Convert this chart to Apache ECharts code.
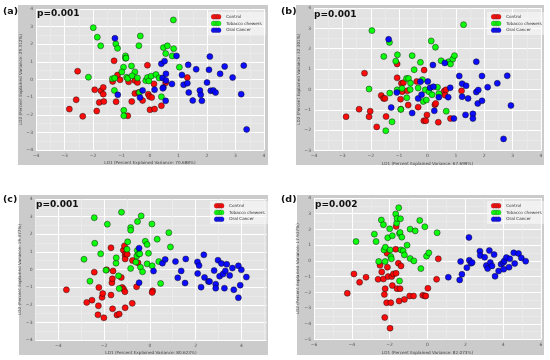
<!DOCTYPE html>
<html><head><meta charset="utf-8">
<script src="https://cdn.jsdelivr.net/npm/echarts@6/dist/echarts.min.js"></script>
<style>html,body{margin:0;padding:0;background:#fff}#c{width:550px;height:360px}</style>
</head><body><div id="c"></div><script>
// ---------- data ----------
const seriesNames = ['Control', 'Tobacco chewers', 'Oral Cancer'];
const panelLabels = ['(a)', '(b)', '(c)', '(d)'];
const pValues = ['p=0.001', 'p=0.001', 'p=0.001', 'p=0.002'];
const ld1Var = ['70.688%', '67.699%', '80.623%', '82.073%'];
const ld2Var = ['29.312%', '32.301%', '19.377%', '17.927%'];
const xRanges = [[-4, 4], [-4, 4], [-5, 5.1], [-6, 6]];
const yRanges = [[-4, 4], [-3, 4], [-4, 4], [-5, 4]];
const xMajor = [1, 1, 2, 2];

const aControl = [[-2.83,-1.68],[-2.54,0.47],[-2.59,-1.15],[-2.36,-2.09],[-1.94,-0.58],[-1.87,-1.79],[-1.78,-1.30],[-1.72,-0.64],[-1.64,-0.45],[-1.64,-0.83],[-1.62,-1.25],[-1.26,1.06],[-1.31,-0.11],[-1.14,0.25],[-1.19,-1.26],[-1.05,-0.02],[-0.75,-0.13],[-0.78,-2.06],[-0.64,-1.25],[-0.53,-0.79],[-0.53,-0.06],[-0.44,-0.17],[-0.40,-0.74],[-0.26,-1.19],[-0.09,0.81],[-0.06,-0.83],[-0.02,-0.96],[0.06,-1.02],[0.00,-1.72],[0.14,-0.25],[0.16,-1.68],[0.40,-1.49],[0.55,-0.19],[1.31,0.11]];
const aTobacco = [[-1.99,2.94],[-1.85,2.40],[-1.73,1.91],[-2.16,0.13],[-1.20,2.02],[-1.14,1.77],[-0.86,1.34],[-0.86,1.20],[-0.84,1.22],[-0.65,0.77],[-0.93,0.70],[-0.99,0.43],[-1.32,0.04],[-1.24,0.08],[-0.82,0.13],[-0.78,0.06],[-0.53,0.43],[-0.63,0.21],[-0.44,0.09],[-0.34,2.47],[-0.39,1.92],[-1.25,-0.62],[-0.92,-1.75],[-0.92,-2.06],[-0.37,-0.74],[-0.15,-0.06],[-0.09,0.11],[-0.04,-0.08],[0.04,0.19],[0.21,0.28],[0.32,0.09],[0.40,-0.98],[0.47,1.81],[0.61,1.91],[0.55,1.47],[0.82,3.38],[0.78,1.34],[0.83,1.75],[1.03,0.70]];
const aCancer = [[-1.23,2.34],[-1.13,-0.87],[-0.26,-0.62],[-0.35,-1.02],[0.16,-0.58],[0.40,0.89],[0.51,1.04],[0.44,0.09],[0.47,-0.45],[0.45,-0.50],[0.56,0.32],[0.56,-0.06],[0.55,-1.21],[0.77,-0.25],[0.93,1.34],[1.12,0.26],[1.18,-0.30],[1.31,-0.21],[1.36,-0.74],[1.34,0.83],[1.50,-1.19],[1.62,0.58],[1.75,-0.62],[1.78,-0.87],[1.82,-1.21],[2.00,-0.17],[2.10,1.30],[2.07,0.55],[2.13,-0.64],[2.22,-0.62],[2.30,-0.74],[2.46,0.32],[2.62,0.74],[2.90,0.11],[3.20,-0.83],[3.29,0.79],[3.39,-2.83]];

const bControl = [[-2.87,-1.34],[-2.41,-0.97],[-2.22,0.80],[-2.06,-1.34],[-2.02,-1.07],[-1.79,-1.84],[-1.63,-0.30],[-1.55,-0.44],[-1.50,-0.44],[-1.46,-1.33],[-1.07,1.25],[-1.07,0.57],[-0.94,-0.97],[-0.92,0.30],[-0.85,0.33],[-0.95,-0.48],[-0.89,-0.11],[-0.68,-0.77],[-0.71,-0.07],[-0.33,-0.87],[-0.38,0.39],[-0.12,0.95],[-0.13,-1.54],[-0.06,-1.54],[-0.02,-1.25],[0.26,-0.75],[0.29,-0.69],[0.38,-1.61],[0.59,-0.08],[0.65,-0.02],[0.62,-0.28],[0.81,-1.43],[1.20,-0.07]];
const bTobacco = [[-1.96,2.89],[-2.06,0.02],[-1.54,1.62],[-1.34,2.31],[-1.12,1.39],[-1.06,1.70],[-1.33,-0.18],[-1.07,-0.02],[-1.25,-1.59],[-1.47,-2.03],[-0.94,-0.98],[-0.90,0.05],[-0.73,-0.41],[-0.74,0.54],[-0.67,0.54],[-0.60,0.31],[-0.61,0.00],[-0.47,0.97],[-0.54,1.66],[-0.33,0.07],[-0.25,1.33],[-0.18,0.48],[-0.15,-0.59],[-0.08,-0.02],[-0.04,-0.52],[0.05,-0.11],[0.13,2.38],[0.16,-0.26],[0.28,2.07],[0.35,0.11],[0.40,-0.21],[0.48,1.41],[0.66,-1.07],[0.74,1.36],[0.81,1.25],[0.89,1.49],[0.95,1.66],[1.27,3.18]];
const bCancer = [[-1.37,2.46],[-1.28,-0.89],[-1.08,-0.15],[-0.54,-1.16],[-0.33,-0.44],[-0.25,0.38],[-0.21,-0.26],[0.01,0.39],[0.09,0.08],[0.19,1.20],[0.21,0.13],[0.24,-1.05],[0.40,-0.38],[0.61,1.30],[0.73,-0.38],[0.80,0.08],[0.93,-1.43],[1.12,0.66],[1.22,0.28],[1.22,-0.36],[1.36,0.18],[1.34,-1.25],[1.43,-0.44],[1.60,-1.20],[1.60,-1.43],[1.72,-0.13],[1.79,-0.03],[1.72,1.36],[1.77,-0.69],[1.92,0.66],[1.92,-0.56],[2.12,0.11],[2.46,0.30],[2.81,0.67],[2.94,-0.79],[2.68,-2.43]];

const cControl = [[-3.65,-1.15],[-2.76,-1.87],[-2.53,-1.74],[-2.43,-0.15],[-2.27,-2.57],[-2.25,-2.06],[-2.23,-1.02],[-2.09,-1.58],[-2.06,-1.36],[-2.01,-2.74],[-1.89,-0.02],[-1.70,1.23],[-1.70,-1.45],[-1.66,-0.75],[-1.64,-0.53],[-1.61,-0.08],[-1.63,-2.23],[-1.44,-2.58],[-1.34,-2.53],[-1.25,-0.45],[-1.16,1.09],[-1.21,-1.02],[-1.15,-1.11],[-1.11,1.34],[-1.08,0.81],[-1.08,0.60],[-1.09,-1.26],[-1.05,0.92],[-1.08,-2.17],[-0.99,0.87],[-0.77,-1.92],[-0.76,0.51],[-0.58,-0.98],[-0.52,0.38],[0.12,-1.21],[0.10,-1.30]];
const cTobacco = [[-2.88,0.58],[-2.62,-0.66],[-2.43,2.94],[-2.41,1.49],[-2.15,0.89],[-1.92,-0.04],[-1.86,2.57],[-1.48,0.36],[-1.47,0.66],[-1.37,-0.36],[-1.34,-1.08],[-1.24,3.25],[-1.00,1.15],[-0.97,1.57],[-0.84,2.38],[-0.84,2.23],[-0.84,0.06],[-0.61,0.42],[-0.57,0.77],[-0.54,2.72],[-0.55,1.08],[-0.49,0.89],[-0.44,0.89],[-0.41,0.13],[-0.38,3.04],[-0.32,-0.13],[-0.20,1.60],[-0.12,1.42],[-0.12,0.32],[-0.06,0.92],[0.09,2.58],[0.10,0.21],[0.32,1.72],[0.39,0.45],[0.47,-0.79],[0.83,2.09],[0.90,1.28]];
const cCancer = [[-0.47,1.21],[-0.47,-0.75],[0.16,-0.09],[0.55,0.36],[0.67,0.57],[1.12,0.45],[1.22,-0.47],[1.37,-0.08],[1.54,-0.77],[1.57,0.60],[2.08,0.43],[2.09,-0.23],[2.15,0.23],[2.24,-1.00],[2.36,0.83],[2.39,-0.45],[2.56,-0.68],[2.61,-0.68],[2.81,-0.06],[2.88,-0.83],[2.88,-1.06],[2.98,0.53],[3.05,-0.38],[3.13,0.34],[3.20,-0.26],[3.30,-0.08],[3.36,0.30],[3.26,-1.06],[3.49,-0.34],[3.61,0.08],[3.67,-1.15],[3.87,0.21],[4.00,-0.02],[4.22,-0.43],[3.95,-0.89],[3.87,-1.60]];

const dControl = [[-4.24,-2.06],[-3.89,-0.83],[-3.59,-1.36],[-3.25,-1.04],[-2.61,-1.17],[-2.51,-0.28],[-2.42,-0.70],[-2.33,-1.15],[-2.28,-2.13],[-2.26,-3.60],[-2.24,-1.77],[-2.16,-2.66],[-2.14,0.49],[-2.12,-0.40],[-2.08,-1.00],[-1.98,-4.28],[-1.94,-2.66],[-1.89,-1.00],[-1.86,-1.57],[-1.80,-0.83],[-1.68,0.74],[-1.66,2.19],[-1.66,-0.79],[-1.61,-1.77],[-1.54,-0.15],[-1.50,-2.55],[-1.45,-1.77],[-1.40,-0.32],[-1.22,-2.45],[-0.94,-2.23],[-0.74,-2.23],[-0.25,-2.19],[-0.14,-2.23],[-0.09,-2.23],[0.02,-1.74],[0.48,-1.17],[0.57,0.13]];
const dTobacco = [[-3.78,1.23],[-2.81,1.70],[-2.72,1.23],[-2.58,-0.04],[-2.44,2.60],[-2.33,2.30],[-2.30,0.70],[-2.23,0.87],[-2.24,-0.04],[-2.10,1.47],[-2.00,2.04],[-1.98,0.70],[-1.94,0.28],[-1.91,0.13],[-1.86,1.60],[-1.68,2.98],[-1.63,2.40],[-1.61,2.70],[-1.52,3.38],[-1.48,1.74],[-1.48,-1.28],[-1.45,1.81],[-1.43,2.68],[-1.36,1.51],[-1.40,0.70],[-1.29,0.64],[-1.22,0.38],[-1.08,1.00],[-0.92,2.02],[-0.92,0.15],[-0.72,0.00],[-0.65,1.91],[-0.41,2.57],[-0.35,-0.49],[-0.14,2.17],[-0.05,0.30],[0.07,0.51],[0.51,1.79]];
const dCancer = [[1.10,-1.04],[1.70,-1.21],[1.75,-0.04],[1.82,-0.85],[2.08,-0.43],[2.19,1.49],[2.21,0.04],[2.30,-0.15],[2.36,-0.11],[2.77,0.62],[2.79,0.34],[3.02,0.23],[3.11,-0.30],[3.18,-0.49],[3.27,0.66],[3.32,-0.11],[3.41,-0.32],[3.52,0.40],[3.57,-0.98],[3.76,-0.64],[3.89,-0.21],[4.01,-0.11],[4.03,-0.53],[4.06,0.00],[4.17,0.21],[4.31,-0.40],[4.35,0.13],[4.56,0.51],[4.61,-0.17],[4.81,0.47],[4.96,0.19],[5.19,-0.02]];

const panelData = [
  [aControl, aTobacco, aCancer],
  [bControl, bTobacco, bCancer],
  [cControl, cTobacco, cCancer],
  [dControl, dTobacco, dCancer]
];

// ---------- layout & style ----------
const seriesColors = ['#ff0000', '#00ff00', '#0000ff'];
const FONT = 'DejaVu Sans';
const gridBoxes = [
  {left: 36, top: 9, width: 228, height: 141},
  {left: 314, top: 8, width: 227, height: 142.5},
  {left: 35.5, top: 199, width: 231, height: 141},
  {left: 314, top: 198, width: 227, height: 141.5}
];
const frames = [[18, 5, 250, 160], [296, 5, 248, 160], [19, 195, 249, 160], [297, 195, 247, 160]];
const labelPos = [[3, 12], [281, 12], [3, 200], [281, 200]];
const pPos = [[37, 14], [314, 15], [36, 205], [315, 205]];
const legendPos = [[207, 12], [487, 12], [210, 201], [487, 201]];
const ld2Gap = [13, 13, 12.5, 14];

const minus = v => String(v).replace('-', '\u2212');
const legendIcon = 'path://M0,2.5a2.5,2.5 0 1,0 5,0a2.5,2.5 0 1,0 -5,0M2.5,2.5a2.5,2.5 0 1,0 5,0a2.5,2.5 0 1,0 -5,0M5,2.5a2.5,2.5 0 1,0 5,0a2.5,2.5 0 1,0 -5,0';

const grid = [], xAxis = [], yAxis = [], series = [], legend = [], graphic = [];
const GRID_BG = '#e3e3e3', MINOR = '#ebebeb';

for (let i = 0; i < 4; i++) {
  grid.push(Object.assign({show: true, backgroundColor: GRID_BG, borderWidth: 0, containLabel: false}, gridBoxes[i]));
  const isC = i === 2;
  xAxis.push({
    gridIndex: i, type: 'value',
    min: xRanges[i][0], max: xRanges[i][1],
    interval: isC ? 1 : xMajor[i],
    axisLine: {show: false}, axisTick: {show: false},
    axisLabel: {fontSize: 4.5, color: '#555', margin: 3, fontFamily: FONT,
      formatter: v => (Number.isInteger(v) && (v % xMajor[i] === 0)) ? minus(v) : ''},
    splitLine: {show: true, showMaxLine: !isC, lineStyle: {color: isC ? [MINOR, '#ffffff'] : '#ffffff', width: 1}},
    minorTick: {show: false, splitNumber: 2},
    minorSplitLine: {show: !isC, lineStyle: {color: MINOR, width: 0.8}},
    name: 'LD1 (Percent Explained Variance: ' + ld1Var[i] + ')',
    nameLocation: 'middle', nameGap: 11,
    nameTextStyle: {fontSize: 4.2, color: '#444', fontFamily: FONT}
  });
  yAxis.push({
    gridIndex: i, type: 'value',
    min: yRanges[i][0], max: yRanges[i][1], interval: 1,
    axisLine: {show: false}, axisTick: {show: false},
    axisLabel: {fontSize: 4.5, color: '#555', margin: 3, fontFamily: FONT, formatter: v => minus(v)},
    splitLine: {show: true, lineStyle: {color: '#ffffff', width: 1}},
    minorTick: {show: false, splitNumber: 2},
    minorSplitLine: {show: true, lineStyle: {color: MINOR, width: 0.8}},
    name: 'LD2 (Percent Explained Variance: ' + ld2Var[i] + ')',
    nameLocation: 'middle', nameGap: ld2Gap[i],
    nameTextStyle: {fontSize: 4.2, color: '#444', fontFamily: FONT}
  });
  for (let s = 0; s < 3; s++) {
    series.push({
      type: 'scatter', name: seriesNames[s],
      xAxisIndex: i, yAxisIndex: i,
      data: panelData[i][s],
      symbol: 'circle', symbolSize: 6,
      itemStyle: {color: seriesColors[s], borderColor: '#111', borderWidth: 0.5, opacity: 0.95},
      z: 2 + s, silent: true, animation: false
    });
  }
  legend.push({
    orient: 'vertical', left: legendPos[i][0], top: legendPos[i][1],
    data: seriesNames.map((n, s) => ({name: n, icon: legendIcon,
      itemStyle: {color: seriesColors[s], borderColor: '#333', borderWidth: 0.25}})),
    itemWidth: 10, itemHeight: 5, itemGap: 1.2,
    padding: [2, 4, 2, 4],
    backgroundColor: 'rgba(255,255,255,0.45)', borderWidth: 0,
    textStyle: {fontSize: 4.2, color: '#333', fontFamily: FONT, lineHeight: 5.5},
    selectedMode: false
  });
  graphic.push({type: 'rect', z: -100, shape: {x: frames[i][0], y: frames[i][1], width: frames[i][2], height: frames[i][3]},
    style: {fill: '#cbcbcb'}, silent: true});
  graphic.push({type: 'text', z: 100, x: labelPos[i][0], y: labelPos[i][1],
    style: {text: panelLabels[i], fontSize: 9.5, fontWeight: 'bold', fontFamily: FONT, fill: '#111', verticalAlign: 'middle'}});
  graphic.push({type: 'text', z: 100, x: pPos[i][0], y: pPos[i][1],
    style: {text: pValues[i], fontSize: 9, fontWeight: 'bold', fontFamily: FONT, fill: '#111', verticalAlign: 'middle'}});
}

const chart = echarts.init(document.getElementById('c'), null, {renderer: 'canvas'});
chart.setOption({animation: false, backgroundColor: '#ffffff', grid, xAxis, yAxis, series, legend, graphic});
</script></body></html>
